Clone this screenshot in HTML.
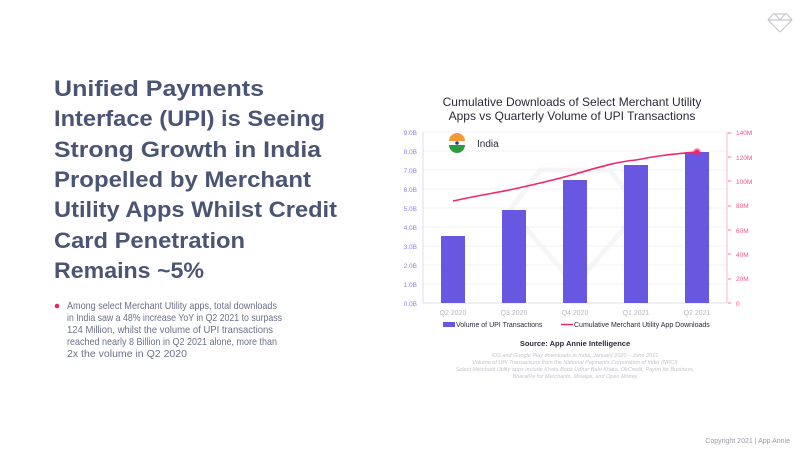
<!DOCTYPE html>
<html><head><meta charset="utf-8"><style>
html,body{margin:0;padding:0;background:#fff;}
svg{display:block;font-family:"Liberation Sans",sans-serif;}
</style></head><body>
<svg width="800" height="450" viewBox="0 0 800 450" xmlns="http://www.w3.org/2000/svg">
<rect width="800" height="450" fill="#fff"/>
<g fill="none" stroke="#c8c8d0" stroke-width="1.2"><polygon points="773,14 787,14 792,20 780,32 768,20"/><line x1="768" y1="20" x2="792" y2="20"/><polyline points="775,14 780,20 785,14"/></g>
<g fill="#4b5573" font-weight="bold" font-size="22">
<text x="54" y="96" textLength="210" lengthAdjust="spacingAndGlyphs">Unified Payments</text>
<text x="54" y="126" textLength="271" lengthAdjust="spacingAndGlyphs">Interface (UPI) is Seeing</text>
<text x="54" y="157" textLength="267" lengthAdjust="spacingAndGlyphs">Strong Growth in India</text>
<text x="54" y="187" textLength="257" lengthAdjust="spacingAndGlyphs">Propelled by Merchant</text>
<text x="54" y="217" textLength="283" lengthAdjust="spacingAndGlyphs">Utility Apps Whilst Credit</text>
<text x="54" y="248" textLength="191" lengthAdjust="spacingAndGlyphs">Card Penetration</text>
<text x="54" y="278" textLength="150" lengthAdjust="spacingAndGlyphs">Remains ~5%</text>
</g>
<circle cx="57" cy="306" r="2.3" fill="#e8246e"/>
<g fill="#6b7089" font-size="10.5">
<text x="67" y="309" textLength="210" lengthAdjust="spacingAndGlyphs">Among select Merchant Utility apps, total downloads</text>
<text x="67" y="321" textLength="215" lengthAdjust="spacingAndGlyphs">in India saw a 48% increase YoY in Q2 2021 to surpass</text>
<text x="67" y="333" textLength="206" lengthAdjust="spacingAndGlyphs">124 Million, whilst the volume of UPI transactions</text>
<text x="67" y="345" textLength="210" lengthAdjust="spacingAndGlyphs">reached nearly 8 Billion in Q2 2021 alone, more than</text>
<text x="67" y="357" textLength="120" lengthAdjust="spacingAndGlyphs">2x the volume in Q2 2020</text>
</g>
<g fill="#2a2a3a" font-size="12" text-anchor="middle">
<text x="572" y="106">Cumulative Downloads of Select Merchant Utility</text>
<text x="572" y="120">Apps vs Quarterly Volume of UPI Transactions</text>
</g>
<g fill="none" stroke="#f6f6f9" stroke-width="5"><polygon points="540,170 610,170 640,210 575,285 510,210"/></g>
<g stroke="#f3f3f6" stroke-width="1">
<line x1="423" y1="132" x2="727" y2="132"/><line x1="423" y1="151" x2="727" y2="151"/><line x1="423" y1="170" x2="727" y2="170"/><line x1="423" y1="189" x2="727" y2="189"/><line x1="423" y1="208" x2="727" y2="208"/><line x1="423" y1="227" x2="727" y2="227"/><line x1="423" y1="246" x2="727" y2="246"/><line x1="423" y1="265" x2="727" y2="265"/><line x1="423" y1="284" x2="727" y2="284"/>
</g>
<line x1="423" y1="132" x2="423" y2="303" stroke="#dcdcf0"/>
<line x1="727" y1="132" x2="727" y2="303" stroke="#f8b8cf"/>
<line x1="423" y1="303" x2="727" y2="303" stroke="#e0e0e8"/>
<g fill="#8a82e8" font-size="6.5" text-anchor="end">
<text x="417" y="135">9.0B</text><text x="417" y="154">8.0B</text><text x="417" y="173">7.0B</text><text x="417" y="192">6.0B</text><text x="417" y="211">5.0B</text><text x="417" y="230">4.0B</text><text x="417" y="249">3.0B</text><text x="417" y="268">2.0B</text><text x="417" y="287">1.0B</text><text x="417" y="306">0.0B</text>
</g>
<g fill="#f0568c" font-size="6.5">
<text x="736" y="135">140M</text><text x="736" y="160">120M</text><text x="736" y="184">100M</text><text x="736" y="208">80M</text><text x="736" y="233">60M</text><text x="736" y="257">40M</text><text x="736" y="281">20M</text><text x="736" y="306">0</text>
</g>
<g stroke="#f0568c" stroke-width="0.8">
<line x1="728" y1="133" x2="731" y2="133"/><line x1="728" y1="157" x2="731" y2="157"/><line x1="728" y1="181" x2="731" y2="181"/><line x1="728" y1="206" x2="731" y2="206"/><line x1="728" y1="230" x2="731" y2="230"/><line x1="728" y1="254" x2="731" y2="254"/><line x1="728" y1="279" x2="731" y2="279"/><line x1="728" y1="303" x2="731" y2="303"/>
</g>
<g fill="#6857e0">
<rect x="441" y="236" width="24" height="67"/>
<rect x="502" y="210" width="24" height="93"/>
<rect x="563" y="180" width="24" height="123"/>
<rect x="624" y="165" width="24" height="138"/>
<rect x="685" y="152" width="24" height="151"/>
</g>
<path d="M453,201 C480,195 495,193 514,189 C540,183 555,180 575,174 C600,167 615,162 636,160 C660,155 675,154 697,152" fill="none" stroke="#f0266e" stroke-width="1.6"/>
<circle cx="697" cy="152" r="4" fill="#f0266e" opacity="0.4"/>
<circle cx="697" cy="152" r="2.5" fill="#f0266e"/>
<circle cx="457" cy="143" r="8" fill="#fff" stroke="#eee" stroke-width="0.5"/>
<path d="M449,141 A8,8 0 0 1 465,141 Z" fill="#f29a38"/>
<path d="M449,145 A8,8 0 0 0 465,145 Z" fill="#2e9a3e"/>
<circle cx="457" cy="143" r="1.8" fill="#2a3a90"/>
<text x="477" y="147" font-size="10" fill="#2a2a3a">India</text>
<g fill="#b8b8c4" font-size="7" text-anchor="middle">
<text x="453" y="315">Q2 2020</text><text x="514" y="315">Q3 2020</text><text x="575" y="315">Q4 2020</text><text x="636" y="315">Q1 2021</text><text x="697" y="315">Q2 2021</text>
</g>
<rect x="443" y="322" width="12" height="5" fill="#6857e0"/>
<text x="456" y="327" font-size="7" fill="#2a2a3a">Volume of UPI Transactions</text>
<line x1="561" y1="324.5" x2="573" y2="324.5" stroke="#f0266e" stroke-width="1.5"/>
<text x="574" y="327" font-size="7" fill="#2a2a3a">Cumulative Merchant Utility App Downloads</text>
<text x="575" y="346" font-size="7.5" font-weight="bold" fill="#2a2a3a" text-anchor="middle">Source: App Annie Intelligence</text>
<g fill="#c4c4cc" font-size="5.5" font-style="italic" text-anchor="middle">
<text x="575" y="357">iOS and Google Play downloads in India, January 2020 – June 2021</text>
<text x="575" y="364">Volume of UPI Transactions from the National Payments Corporation of India (NPCI)</text>
<text x="575" y="371">Select Merchant Utility apps include Khata Book Udhar Bahi Khata, OkCredit, Paytm for Business,</text>
<text x="575" y="378">BharatPe for Merchants, Mswipe, and Open Money</text>
</g>
<text x="790" y="443" font-size="7" fill="#9a9aa8" text-anchor="end">Copyright 2021  |  App Annie</text>
</svg>
</body></html>
